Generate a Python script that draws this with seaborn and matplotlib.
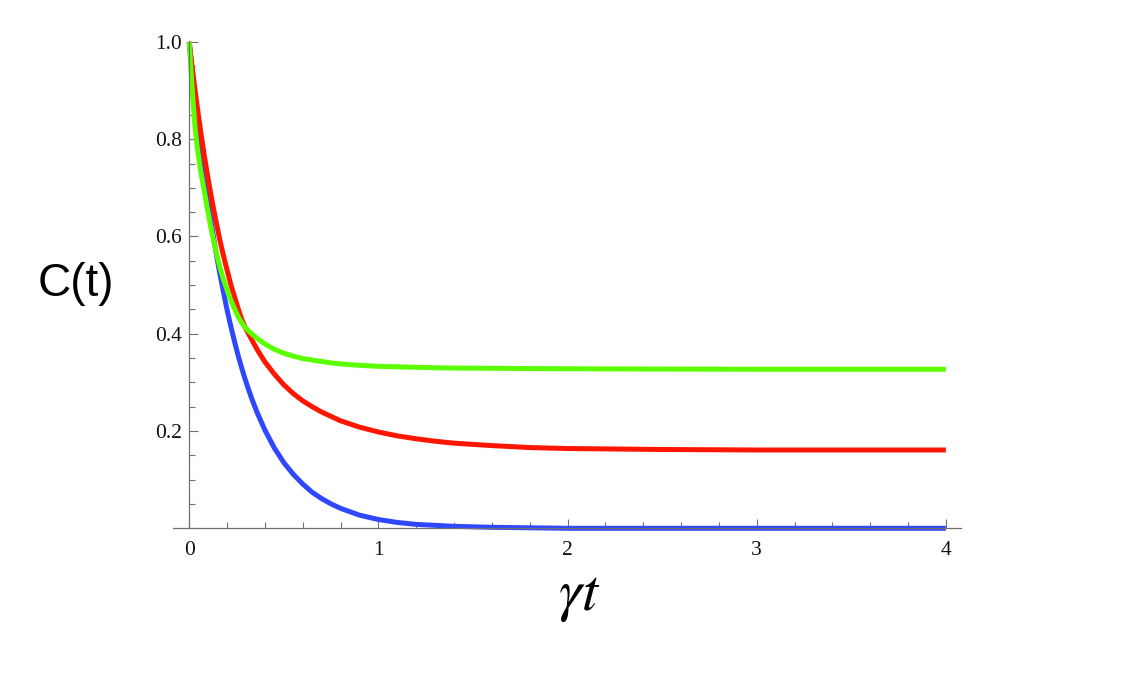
import matplotlib
matplotlib.use('Agg')
import matplotlib.pyplot as plt
from matplotlib.ticker import MultipleLocator
import pandas as pd
import seaborn as sns

# values (denser where the curves bend)
gamma_t = [0, 0.01, 0.02, 0.03, 0.04, 0.06, 0.08, 0.1, 0.12, 0.14, 0.16, 0.18, 0.2, 0.22,
           0.24, 0.26, 0.28, 0.3, 0.33, 0.36, 0.4, 0.45, 0.5, 0.55, 0.6, 0.65, 0.7, 0.75,
           0.8, 0.9, 1.0, 1.1, 1.2, 1.3, 1.4, 1.6, 1.8, 2.0, 2.5, 3.0, 3.5, 4.0]
c_blue = [1.0, 0.961, 0.923, 0.887, 0.852, 0.787, 0.726, 0.670, 0.619, 0.571, 0.527, 0.487,
          0.449, 0.415, 0.383, 0.353, 0.326, 0.301, 0.267, 0.237, 0.202, 0.165, 0.135, 0.111,
          0.091, 0.074, 0.061, 0.050, 0.041, 0.027, 0.018, 0.012, 0.008, 0.006, 0.004, 0.002,
          0.001, 0.0, 0.0, 0.0, 0.0, 0.0]
c_red = [1.0, 0.966, 0.934, 0.903, 0.873, 0.817, 0.765, 0.718, 0.674, 0.634, 0.596, 0.562,
         0.531, 0.501, 0.475, 0.450, 0.427, 0.410, 0.388, 0.367, 0.342, 0.317, 0.295, 0.277,
         0.262, 0.250, 0.239, 0.230, 0.221, 0.208, 0.198, 0.190, 0.184, 0.179, 0.175, 0.170,
         0.166, 0.164, 0.162, 0.161, 0.161, 0.161]
c_green = [1.0, 0.936, 0.878, 0.828, 0.790, 0.735, 0.692, 0.648, 0.607, 0.572, 0.540, 0.513,
           0.490, 0.469, 0.451, 0.434, 0.421, 0.411, 0.400, 0.390, 0.379, 0.368, 0.360, 0.354,
           0.349, 0.346, 0.343, 0.340, 0.338, 0.335, 0.333, 0.332, 0.331, 0.330, 0.3295, 0.329,
           0.3284, 0.328, 0.3274, 0.327, 0.327, 0.327]

x_major = [0, 1, 2, 3, 4]
y_major = [0.2, 0.4, 0.6, 0.8, 1.0]

df = pd.DataFrame({'gt': gamma_t, 'blue': c_blue, 'red': c_red, 'green': c_green})

sns.set_style('white')
plt.rcParams['mathtext.fontset'] = 'stix'

fig = plt.figure(figsize=(11.35, 6.82), dpi=100)
ax = fig.add_axes([0.1524, 0.2254, 0.6943, 0.7145])

line_colors = {'blue': '#2f48ff', 'red': '#ff1500', 'green': '#5cff00'}
for name in ['blue', 'red', 'green']:
    sns.lineplot(data=df, x='gt', y=name, ax=ax, color=line_colors[name],
                 lw=3.6, clip_on=False, solid_capstyle='butt')

ax.set_xlim(-0.086, 4.08)
ax.set_ylim(0, 1.002)

# Mathematica style axes crossing at the origin
ax.spines['top'].set_visible(False)
ax.spines['right'].set_visible(False)
ax.spines['left'].set_position(('data', 0))
for s in ['left', 'bottom']:
    ax.spines[s].set_color('#707070')
    ax.spines[s].set_linewidth(0.9)

ax.set_xticks(x_major)
ax.set_yticks(y_major)
ax.set_xticklabels([str(v) for v in x_major])
ax.set_yticklabels(['%.1f' % v for v in y_major])
ax.xaxis.set_minor_locator(MultipleLocator(0.2))
ax.yaxis.set_minor_locator(MultipleLocator(0.05))
ax.tick_params(which='both', direction='in', color='#707070', width=0.8,
               bottom=True, left=True)
ax.tick_params(which='major', length=6.5)
ax.tick_params(which='minor', length=4)
ax.tick_params(axis='x', which='major', pad=9)
ax.tick_params(axis='y', which='major', pad=5)
for lab in ax.get_xticklabels() + ax.get_yticklabels():
    lab.set_fontfamily('Liberation Serif')
    lab.set_fontsize(15.5)
    lab.set_color('#111111')

ax.set_xlabel('')
ax.set_ylabel('')
fig.text(76 / 1135, 1 - 284 / 682, 'C(t)', fontsize=33, family='Liberation Sans',
         ha='center', va='center', color='black')
fig.text(580 / 1135, 1 - 596 / 682, r'$\gamma t$', fontsize=42, ha='center', va='center',
         color='black')

fig.savefig('out.png', dpi=100)
